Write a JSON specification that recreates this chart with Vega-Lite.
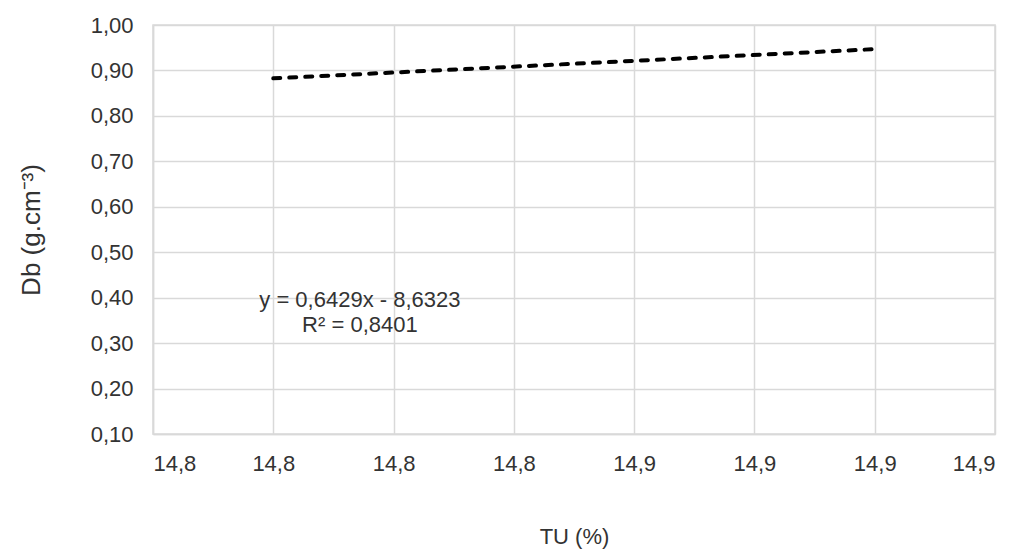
{
  "$schema": "https://vega.github.io/schema/vega-lite/v6.json",
  "width": 842,
  "height": 409,
  "autosize": {"type": "none"},
  "padding": {"left": 153, "top": 25, "right": 26, "bottom": 115},
  "background": "white",
  "config": {
    "view": {"stroke": "#d9d9d9", "strokeWidth": 1.5},
    "font": "Liberation Sans"
  },
  "datasets": {
    "trend": [
      {"TU": 14.80, "Db": 0.8826},
      {"TU": 14.90, "Db": 0.9469}
    ],
    "labels": [
      {"TU": 14.8144, "Db": 0.395, "label": "y = 0,6429x - 8,6323"},
      {"TU": 14.8144, "Db": 0.340, "label": "R² = 0,8401"}
    ]
  },
  "layer": [
    {
      "data": {"name": "trend"},
      "mark": {"type": "line", "color": "black", "strokeWidth": 4, "strokeDash": [7, 9], "strokeCap": "round"},
      "encoding": {
        "x": {
          "field": "TU", "type": "quantitative",
          "scale": {"domain": [14.78, 14.92], "zero": false, "nice": false},
          "axis": {
            "title": "TU (%)",
            "values": [14.78, 14.80, 14.82, 14.84, 14.86, 14.88, 14.90, 14.92],
            "labelExpr": "replace(format(datum.value, '.1f'), '.', ',')",
            "grid": true, "gridColor": "#d9d9d9", "gridWidth": 1.5,
            "domainColor": "#d9d9d9", "domainWidth": 1.5,
            "ticks": false,
            "labelFontSize": 22, "labelColor": "#333333", "labelPadding": 19,
            "titleFontSize": 22, "titleFontWeight": "normal", "titleColor": "#333333", "titlePadding": 52
          }
        },
        "y": {
          "field": "Db", "type": "quantitative",
          "scale": {"domain": [0.1, 1.0], "zero": false, "nice": false},
          "axis": {
            "title": "Db (g.cm⁻³)",
            "values": [0.1, 0.2, 0.3, 0.4, 0.5, 0.6, 0.7, 0.8, 0.9, 1.0],
            "labelExpr": "replace(format(datum.value, '.2f'), '.', ',')",
            "grid": true, "gridColor": "#d9d9d9", "gridWidth": 1.5,
            "domainColor": "#d9d9d9", "domainWidth": 1.5,
            "ticks": false,
            "labelFontSize": 22, "labelColor": "#333333", "labelPadding": 20,
            "titleFontSize": 26, "titleFontWeight": "normal", "titleColor": "#333333", "titlePadding": 46
          }
        }
      }
    },
    {
      "data": {"name": "labels"},
      "mark": {"type": "text", "fontSize": 22, "color": "#333333", "align": "center", "baseline": "middle"},
      "encoding": {
        "x": {"field": "TU", "type": "quantitative"},
        "y": {"field": "Db", "type": "quantitative"},
        "text": {"field": "label"}
      }
    }
  ]
}
